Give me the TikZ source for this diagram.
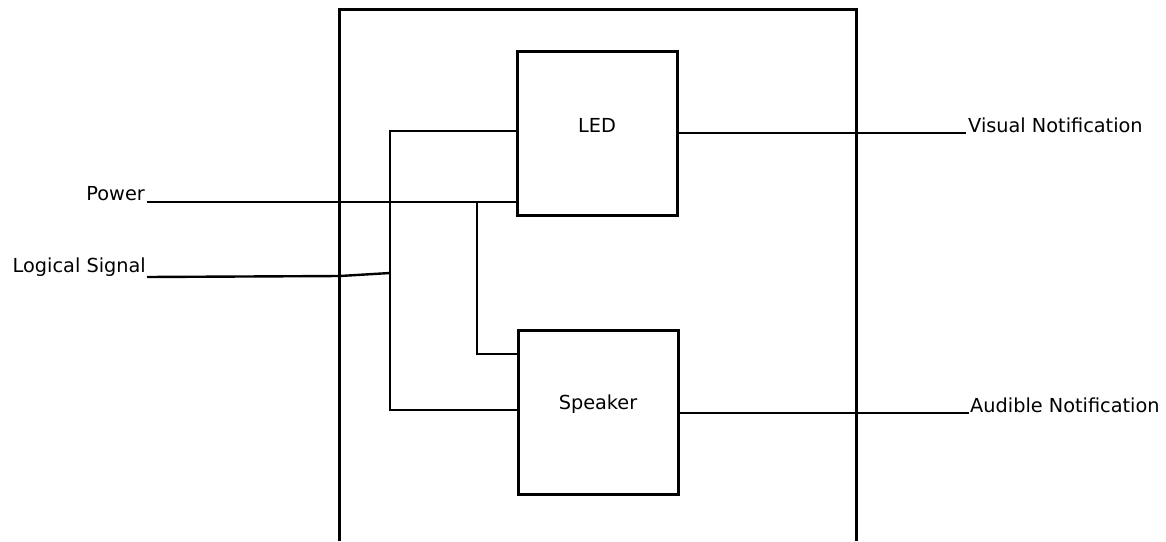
\documentclass[tikz,border=0pt]{standalone}
\usepackage{fontspec}
\setmainfont{DejaVu Sans}
\tikzset{
  blk/.style={draw, line width=3pt, minimum width=160pt, minimum height=164pt, inner sep=0pt},
  wire/.style={line width=2.4pt},
  frame/.style={line width=3pt},
  txt/.style={font=\fontsize{19.3}{23}\selectfont, inner sep=0pt, text=black},
}
\begin{document}
\begin{tikzpicture}[x=1pt,y=-1pt]
\useasboundingbox (0,0) rectangle (1166,541);
% outer frame (open at the bottom edge of the picture)
\draw[frame] (339,541) -- (339,9) -- (856,9) -- (856,541);
% blocks
\node[blk] (led) at (597,133) {};
\node[blk] (spk) at (598,412) {};
\node[txt] (ledt) at (597,125) {LED};
\node[txt] (spkt) at (598,404) {Speaker};
% free ends and junctions
\coordinate (pw) at (147,202);
\coordinate (ls) at (147,277);
\coordinate (lsb) at (340,276);
\coordinate (bt) at (390,131);
\coordinate (bb) at (390,410);
\coordinate (bm) at (390,273);
\coordinate (jp) at (477,201);
\coordinate (js) at (477,354);
\coordinate (vn) at (966,133);
\coordinate (an) at (969,413);
% input wires
\draw[wire] (pw) -- (pw -| led.west);
\draw[wire] (jp) -- (js) -- (js -| spk.west);
\draw[wire] (ls) -- (lsb) -- (bm);
\draw[wire] (bt -| led.west) -- (bt) -- (bb) -- (bb -| spk.west);
% output wires
\draw[wire] (led.east |- vn) -- (vn);
\draw[wire] (spk.east |- an) -- (an);
% labels
\node[txt, anchor=base east] (pwl) at (145,200) {Power};
\node[txt, anchor=base east] (lsl) at (146,272) {Logical Signal};
\node[txt, anchor=base west] (vnl) at (968,132) {Visual Notification};
\node[txt, anchor=base west] (anl) at (970,412) {Audible Notification};
\end{tikzpicture}
\end{document}
